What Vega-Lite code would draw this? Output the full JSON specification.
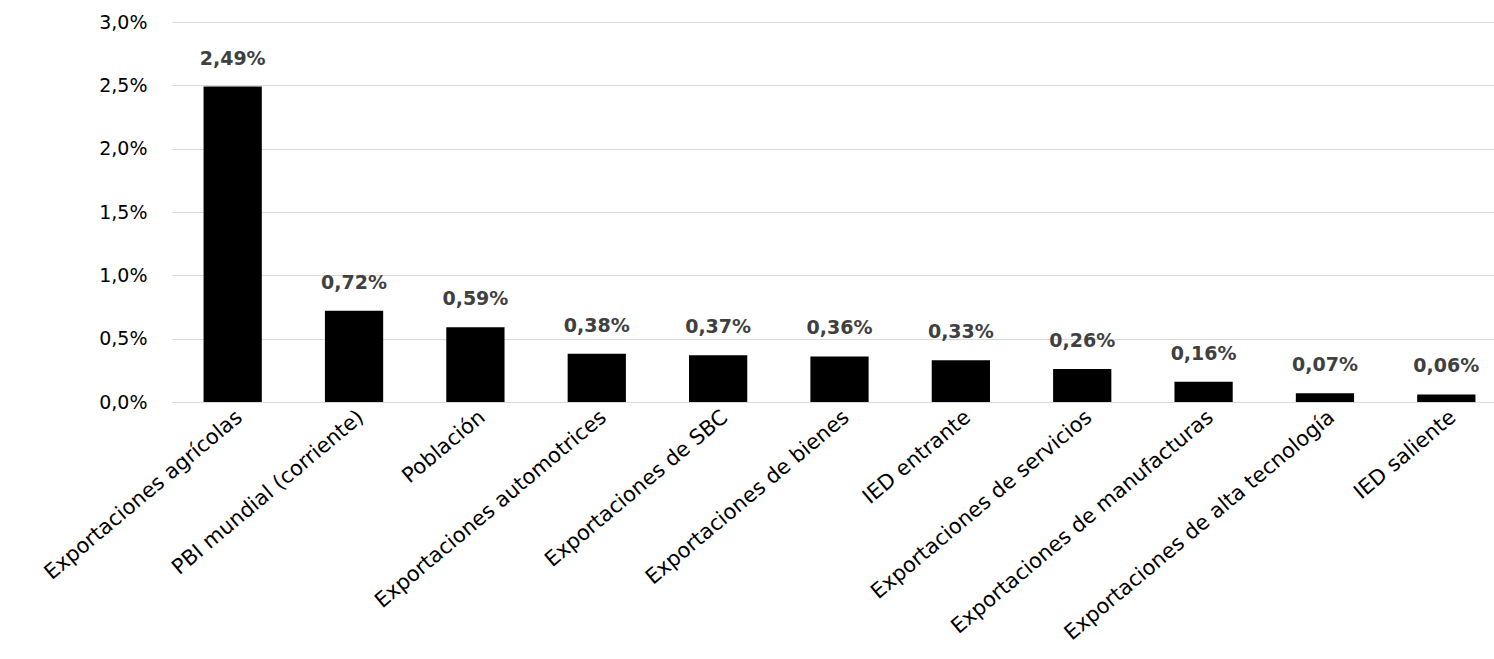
{
  "$schema": "https://vega.github.io/schema/vega-lite/v6.json",
  "autosize": "none",
  "width": 1335,
  "height": 380,
  "padding": {"left": 172, "top": 22, "right": 0, "bottom": 257},
  "background": "white",
  "config": {
    "locale": {"number": {"decimal": ",", "thousands": ".", "grouping": [3], "currency": ["", ""]}},
    "view": {"stroke": null},
    "font": "DejaVu Sans"
  },
  "data": {
    "values": [
      {"cat": "Exportaciones agrícolas", "v": 0.0249},
      {"cat": "PBI mundial (corriente)", "v": 0.0072},
      {"cat": "Población", "v": 0.0059},
      {"cat": "Exportaciones automotrices", "v": 0.0038},
      {"cat": "Exportaciones de SBC", "v": 0.0037},
      {"cat": "Exportaciones de bienes", "v": 0.0036},
      {"cat": "IED entrante", "v": 0.0033},
      {"cat": "Exportaciones de servicios", "v": 0.0026},
      {"cat": "Exportaciones de manufacturas", "v": 0.0016},
      {"cat": "Exportaciones de alta tecnología", "v": 0.0007},
      {"cat": "IED saliente", "v": 0.0006}
    ]
  },
  "encoding": {
    "x": {
      "field": "cat", "type": "nominal", "sort": null, "title": null,
      "scale": {"paddingInner": 0.52, "paddingOuter": 0.26},
      "axis": {"labelAngle": -40, "labelAlign": "right", "labelBaseline": "top", "labelFontSize": 21, "labelColor": "#000000", "ticks": false, "domainColor": "#d9d9d9", "labelPadding": 4, "labelLimit": 600}
    },
    "y": {
      "field": "v", "type": "quantitative", "title": null,
      "scale": {"domain": [0, 0.03]},
      "axis": {"format": ".1%", "values": [0, 0.005, 0.01, 0.015, 0.02, 0.025, 0.03], "labelOverlap": false, "labelFontSize": 19, "labelColor": "#000000", "domain": false, "ticks": false, "gridColor": "#d9d9d9", "labelPadding": 25}
    }
  },
  "layer": [
    {"mark": {"type": "bar", "color": "#000000"}},
    {
      "mark": {"type": "text", "dy": -28, "fontSize": 19, "fontWeight": "bold", "color": "#404040"},
      "encoding": {"text": {"field": "v", "type": "quantitative", "format": ".2%"}}
    }
  ]
}
